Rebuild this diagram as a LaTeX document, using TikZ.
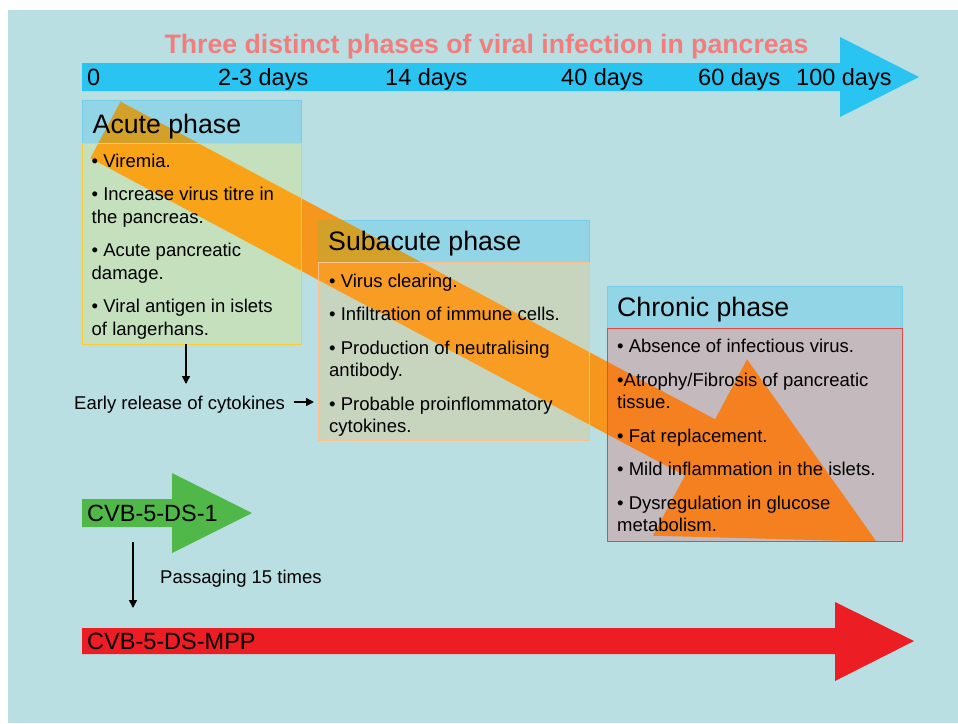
\documentclass[tikz,border=0pt]{standalone}
\usepackage{fontspec}
\setmainfont{Liberation Sans}
\usetikzlibrary{arrows.meta}
\definecolor{bgteal}{RGB}{185,223,227}
\definecolor{timeblue}{RGB}{41,196,241}
\definecolor{headblue}{RGB}{146,213,230}
\definecolor{headline}{RGB}{120,205,232}
\definecolor{headgold}{RGB}{211,160,42}
\definecolor{bandorange}{RGB}{247,150,29}
\definecolor{titlered}{RGB}{242,125,125}
\definecolor{dsgreen}{RGB}{80,184,72}
\definecolor{dsred}{RGB}{237,29,36}
\definecolor{acutetint}{RGB}{255,230,0}
\definecolor{subtint}{RGB}{255,180,60}
\definecolor{chrontint}{RGB}{240,40,40}
\definecolor{acuteline}{RGB}{255,204,51}
\definecolor{subline}{RGB}{250,192,144}
\definecolor{chronline}{RGB}{230,70,70}
\tikzset{
	phase_box/.style = {rectangle, inner sep=0pt},
	phase_head/.style = {phase_box, fill=headblue, draw=headline, line width=0.8pt},
	phase_ttl/.style = {anchor=base west, inner sep=0pt, font=\fontsize{26.7}{30}\selectfont},
	phase_txt/.style = {anchor=base west, inner sep=0pt, align=left, font=\fontsize{18.5}{22.5}\selectfont},
	day_lbl/.style = {anchor=base west, inner sep=0pt, font=\fontsize{23.5}{26}\selectfont},
	note_lbl/.style = {anchor=base west, inner sep=0pt, font=\fontsize{18.5}{22}\selectfont},
	thin_arrow/.style = {-{Triangle[length=8pt,width=8pt]}, line width=1.6pt}
}

\begin{document}
\begin{tikzpicture}[x=1pt, y=-1pt]
	\useasboundingbox (0,0) rectangle (958,723);
	\fill[bgteal] (8,10) rectangle (958,723);

	% time line
	\fill[timeblue] (82,63) -- (840,63) -- (840,37) -- (919,77) -- (840,117) -- (840,91) -- (82,91) -- cycle;
	\node[anchor=base, inner sep=0pt, text=titlered, font=\fontsize{26.7}{30}\selectfont\bfseries] (title) at (486.5,53.5) {Three distinct phases of viral infection in pancreas};
	\node[day_lbl] (d0) at (87,85.5) {0};
	\node[day_lbl] (d3) at (218,85.5) {2-3 days};
	\node[day_lbl] (d14) at (385,85.5) {14 days};
	\node[day_lbl] (d40) at (561,85.5) {40 days};
	\node[day_lbl] (d60) at (698,85.5) {60 days};
	\node[day_lbl] (d100) at (796,85.5) {100 days};

	% phase headers
	\node[phase_head, minimum width=219, minimum height=43] (acute_head) at (191.5,121.5) {};
	\node[phase_head, minimum width=271, minimum height=42] (sub_head) at (453.5,241) {};
	\node[phase_head, minimum width=295, minimum height=42] (chron_head) at (754.5,307) {};

	% orange band
	\coordinate (o1) at (120.6,101.8);
	\coordinate (o2) at (715.1,419.3);
	\coordinate (o3) at (747.1,359.3);
	\coordinate (o4) at (876.5,541.7);
	\coordinate (o5) at (652.9,535.7);
	\coordinate (o6) at (684.9,475.7);
	\coordinate (o7) at (90.4,158.2);
	\fill[bandorange] (o1) -- (o2) -- (o3) -- (o4) -- (o5) -- (o6) -- (o7) -- cycle;
	\begin{scope}
		\clip (acute_head.north west) rectangle (acute_head.south east)
			(sub_head.north west) rectangle (sub_head.south east);
		\fill[headgold] (o1) -- (o2) -- (o3) -- (o4) -- (o5) -- (o6) -- (o7) -- cycle;
	\end{scope}

	% phase bodies
	\node[phase_box, minimum width=219, minimum height=201, fill=acutetint, fill opacity=0.17, draw=acuteline, draw opacity=1, line width=0.8pt] (acute_body) at (191.5,243.5) {};
	\node[phase_box, minimum width=271, minimum height=178, fill=subtint, fill opacity=0.22, draw=subline, draw opacity=1, line width=0.8pt] (sub_body) at (453.5,351) {};
	\node[phase_box, minimum width=295, minimum height=213, fill=chrontint, fill opacity=0.2, draw=chronline, draw opacity=1, line width=0.8pt] (chron_body) at (754.5,434.5) {};

	\node[phase_ttl] (acute_ttl) at (92.5,133) {Acute phase};
	\node[phase_ttl] (sub_ttl) at (328,250) {Subacute phase};
	\node[phase_ttl] (chron_ttl) at (617,316) {Chronic phase};

	% base of a multi-line node = its last line
	\node[phase_txt] (acute_txt) at (91.5,335) {• Viremia.\\[11pt]• Increase virus titre in\\the pancreas.\\[11pt]• Acute pancreatic\\damage.\\[11pt]• Viral antigen in islets\\of langerhans.};
	\node[phase_txt] (sub_txt) at (329,432.5) {• Virus clearing.\\[11pt]• Infiltration of immune cells.\\[11pt]• Production of neutralising\\antibody.\\[11pt]• Probable proinflommatory\\cytokines.};
	\node[phase_txt] (chron_txt) at (617,531.5) {• Absence of infectious virus.\\[11pt]•Atrophy/Fibrosis of pancreatic\\tissue.\\[11pt]• Fat replacement.\\[11pt]• Mild inflammation in the islets.\\[11pt]• Dysregulation in glucose\\metabolism.};

	% cytokines
	\node[note_lbl] (early_lbl) at (74,409) {Early release of cytokines};
	\coordinate (cyto_top) at (186,384);
	\coordinate (sub_in) at (314,402);
	\draw[thin_arrow] (acute_body.south -| cyto_top) -- (cyto_top);
	\draw[thin_arrow] ([xshift=9pt]early_lbl.east |- sub_in) -- (sub_in);

	% strains
	\fill[dsgreen] (82,499) -- (172,499) -- (172,473) -- (252,513) -- (172,553) -- (172,527) -- (82,527) -- cycle;
	\node[day_lbl] (ds1) at (87,521.5) {CVB-5-DS-1};
	\fill[dsred] (82,628) -- (835,628) -- (835,602) -- (914,641) -- (835,681) -- (835,654) -- (82,654) -- cycle;
	\node[day_lbl] (dsmpp) at (87,649.5) {CVB-5-DS-MPP};
	\coordinate (ds1_out) at (133,542);
	\coordinate (mpp_top) at (133,608);
	\draw[thin_arrow] (ds1_out) -- (mpp_top);
	\node[note_lbl] (pass_lbl) at (160,583.5) {Passaging 15 times};
\end{tikzpicture}
\end{document}
